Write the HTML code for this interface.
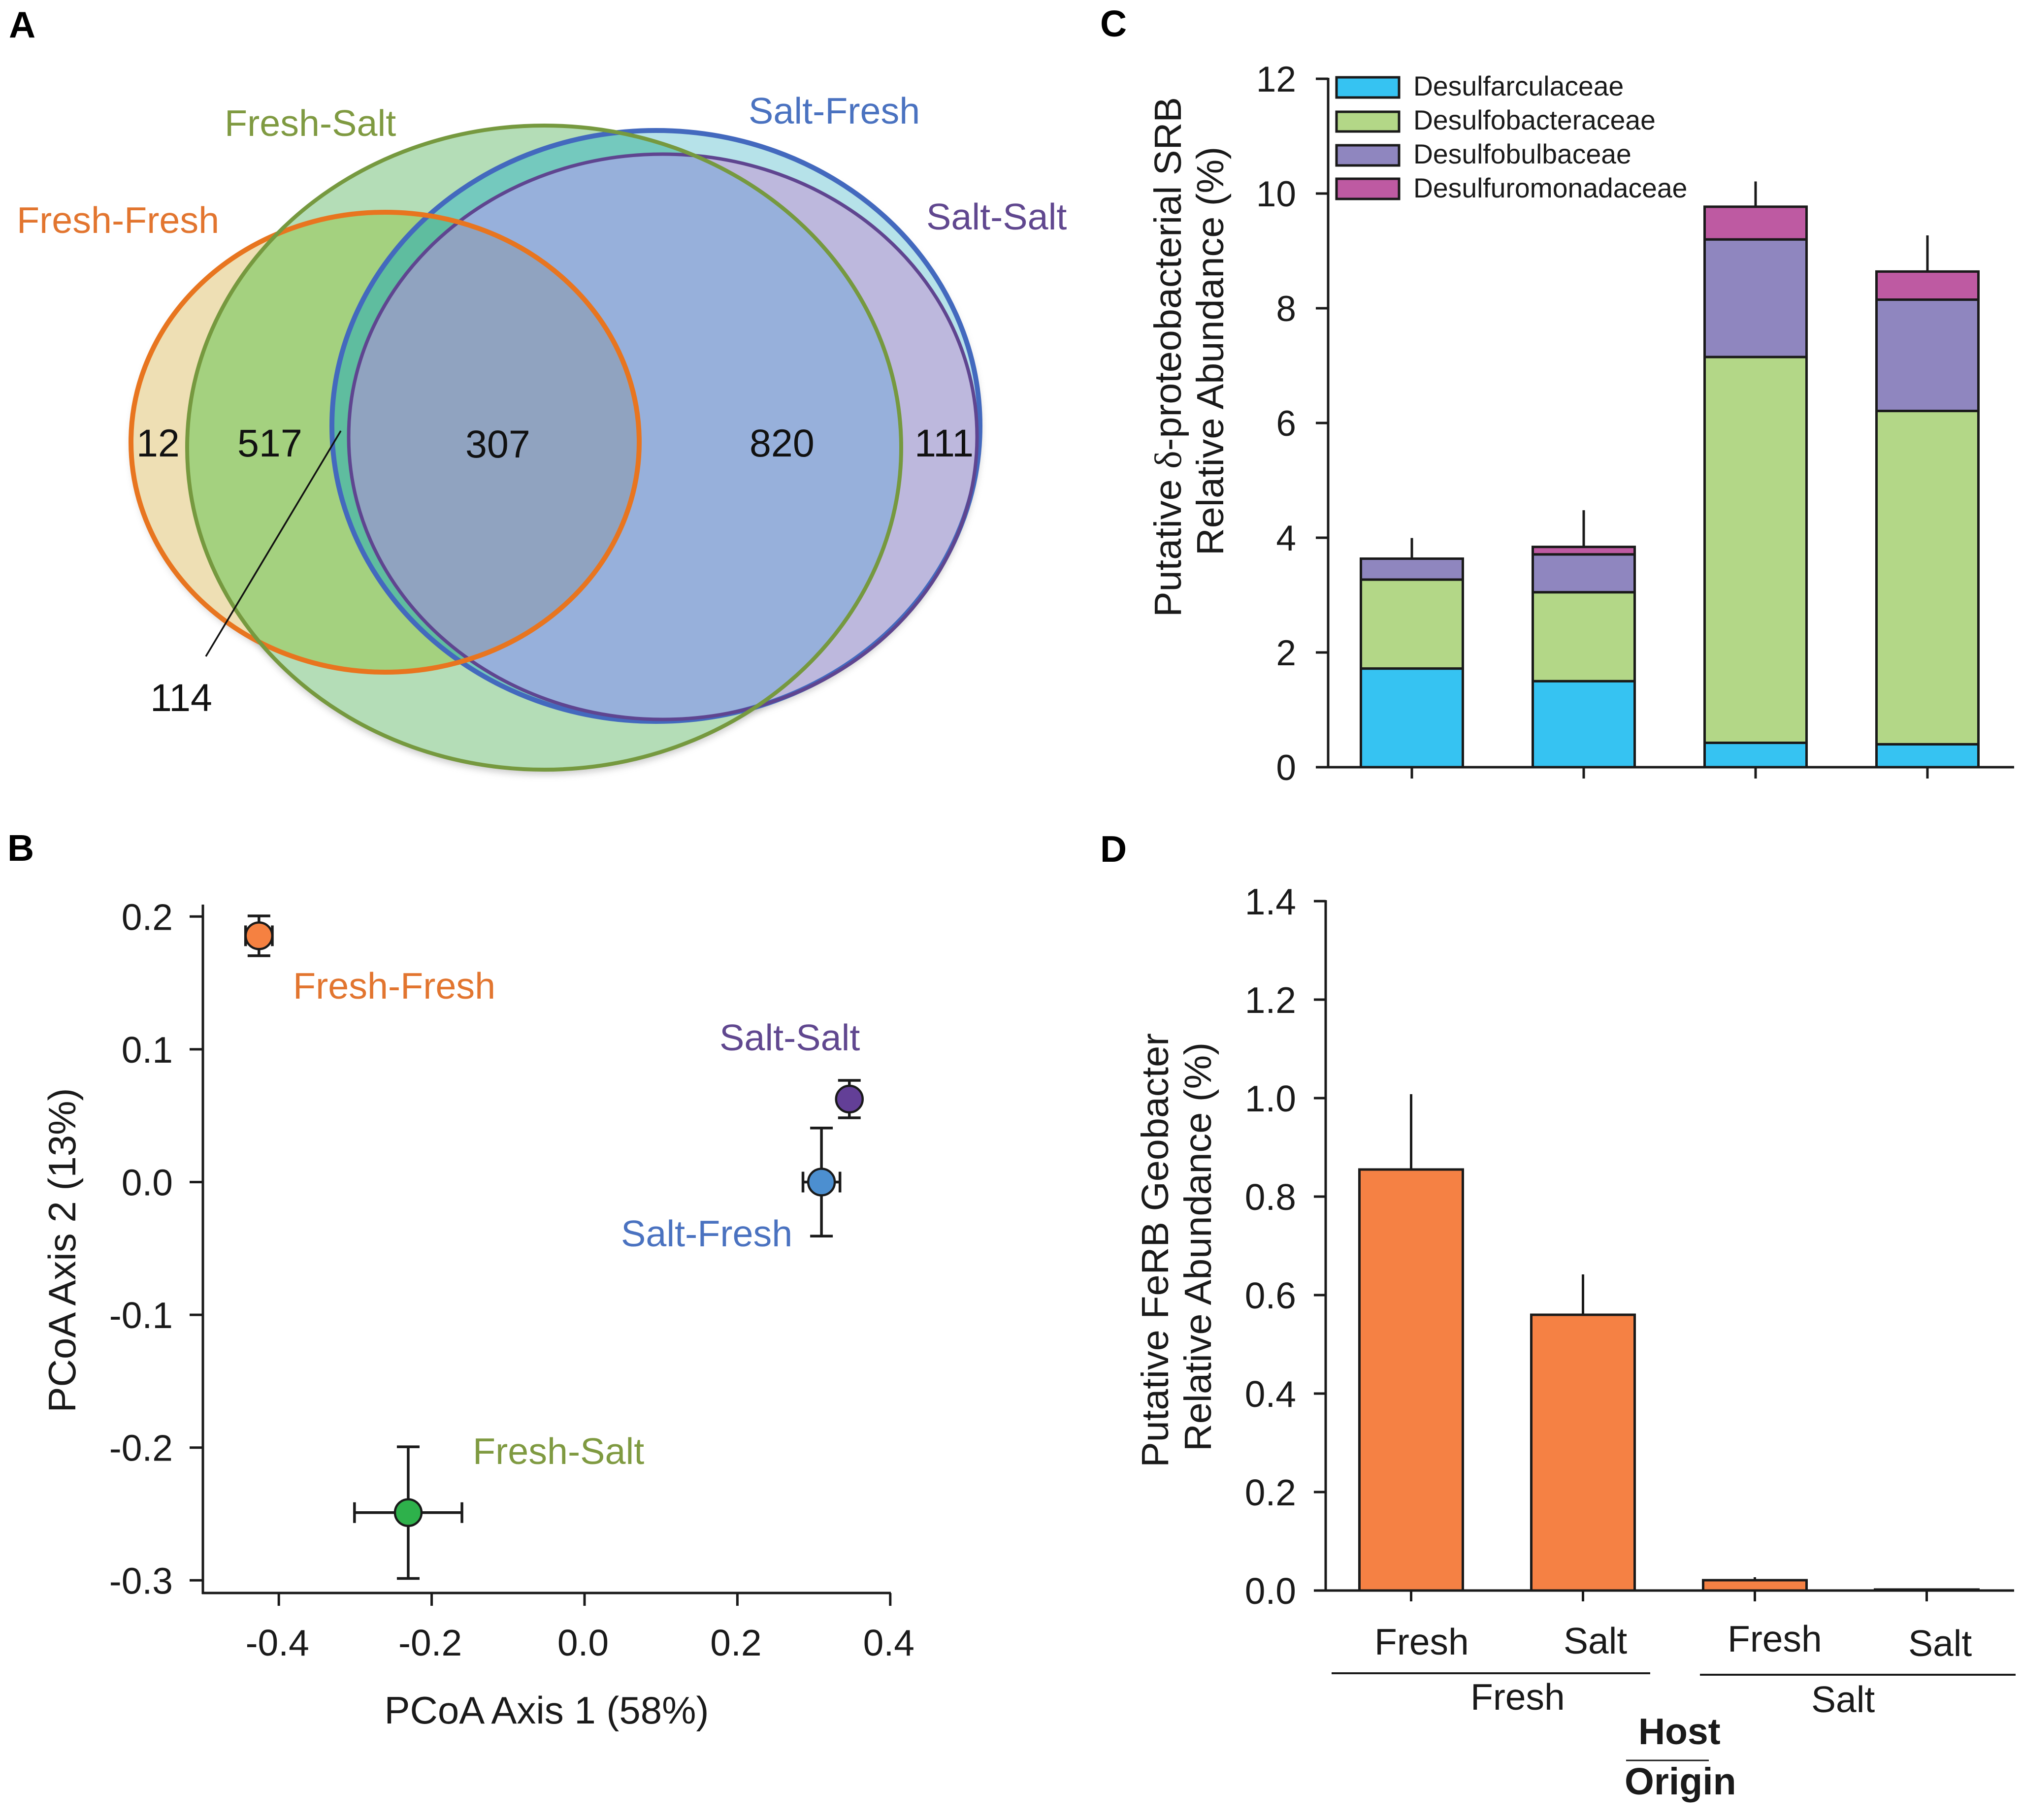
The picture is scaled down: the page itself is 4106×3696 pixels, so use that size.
<!DOCTYPE html>
<html lang="en">
<head>
<meta charset="utf-8">
<title>Four panel microbial community figure</title>
<style>
html,body{margin:0;padding:0;background:#fff;}
svg{display:block;}
text{font-family:"Liberation Sans",Arial,sans-serif;fill:#1a1a1a;}
.panel{font-weight:bold;font-size:75px;fill:#000;}
.vnum{font-size:79px;fill:#111;}
.vlab{font-size:75.5px;}
.title{font-size:77.4px;}
.titleb{font-size:78px;}
.tick{font-size:75px;}
.leg{font-size:55.3px;}
.cat{font-size:75px;}
.ff{fill:#E2752F;}.fs{fill:#7F9A41;}.sf{fill:#4A72C0;}.ss{fill:#60478F;}
</style>
</head>
<body>
<svg id="figure" xmlns="http://www.w3.org/2000/svg" width="4106" height="3696" viewBox="0 0 4106 3696">
  <defs>
    <clipPath id="clipOrange"><ellipse cx="782" cy="898" rx="516" ry="467"/></clipPath>
    <clipPath id="clipGreen"><ellipse cx="1105" cy="909" rx="725" ry="654"/></clipPath>
    <clipPath id="clipBlue"><ellipse cx="1332" cy="865" rx="658" ry="600"/></clipPath>
    <clipPath id="clipPurple"><ellipse cx="1346" cy="887" rx="638" ry="574"/></clipPath>
    <filter id="soft" x="-10%" y="-10%" width="120%" height="120%"><feGaussianBlur stdDeviation="7"/></filter>
  </defs>
  <rect x="0" y="0" width="4106" height="3696" fill="#fff"/>

  <text class="panel" x="18" y="76">A</text>
  <text class="panel" x="15" y="1748">B</text>
  <text class="panel" x="2234" y="74">C</text>
  <text class="panel" x="2234" y="1750">D</text>

  <g id="venn">
    <ellipse cx="1105" cy="919" rx="725" ry="654" fill="#999" opacity="0.5" filter="url(#soft)"/>
    <ellipse cx="782" cy="906" rx="516" ry="467" fill="#999" opacity="0.45" filter="url(#soft)"/>
    <ellipse cx="1335" cy="873" rx="658" ry="600" fill="#999" opacity="0.5" filter="url(#soft)"/>

    <ellipse cx="782" cy="898" rx="516" ry="467" fill="#EEDFB4"/>
    <ellipse cx="1105" cy="909" rx="725" ry="654" fill="#B4DDB7"/>
    <g clip-path="url(#clipGreen)"><ellipse cx="782" cy="898" rx="516" ry="467" fill="#A4D17F"/></g>
    <ellipse cx="1332" cy="865" rx="658" ry="600" fill="#B6E2E9"/>
    <g clip-path="url(#clipGreen)"><ellipse cx="1332" cy="865" rx="658" ry="600" fill="#74C9BE"/></g>
    <g clip-path="url(#clipOrange)"><g clip-path="url(#clipGreen)"><ellipse cx="1332" cy="865" rx="658" ry="600" fill="#5FBD9F"/></g></g>
    <ellipse cx="1346" cy="887" rx="638" ry="574" fill="#BDB8DD"/>
    <g clip-path="url(#clipGreen)"><ellipse cx="1346" cy="887" rx="638" ry="574" fill="#97B0DB"/></g>
    <g clip-path="url(#clipOrange)"><g clip-path="url(#clipGreen)"><ellipse cx="1346" cy="887" rx="638" ry="574" fill="#90A3C0"/></g></g>

    <ellipse cx="1332" cy="865" rx="658" ry="600" fill="none" stroke="#4369BE" stroke-width="10"/>
    <ellipse cx="1346" cy="887" rx="638" ry="574" fill="none" stroke="#5F4590" stroke-width="7"/>
    <ellipse cx="782" cy="898" rx="516" ry="467" fill="none" stroke="#E8751F" stroke-width="10"/>
    <ellipse cx="1105" cy="909" rx="725" ry="654" fill="none" stroke="#76993F" stroke-width="8"/>

    <line x1="692" y1="875" x2="418" y2="1333" stroke="#111" stroke-width="3.5"/>

    <text class="vlab ff" x="34" y="473">Fresh-Fresh</text>
    <text class="vlab fs" x="456" y="276">Fresh-Salt</text>
    <text class="vlab sf" x="1520" y="251">Salt-Fresh</text>
    <text class="vlab ss" x="1881" y="466">Salt-Salt</text>
    <text class="vnum" x="277" y="927">12</text>
    <text class="vnum" x="482" y="927">517</text>
    <text class="vnum" x="945" y="929">307</text>
    <text class="vnum" x="1522" y="927">820</text>
    <text class="vnum" x="1857" y="927">111</text>
    <text class="vnum" x="305" y="1444">114</text>
  </g>

  <g id="chartB">
    <text class="titleb" x="1110" y="3500" text-anchor="middle">PCoA Axis 1 (58%)</text>
    <text class="titleb" transform="translate(153,2539) rotate(-90)" text-anchor="middle">PCoA Axis 2 (13%)</text>
  </g>

  <g id="chartC">
    <text class="title" transform="translate(2398,725) rotate(-90)" text-anchor="middle">Putative <tspan font-family="'Liberation Serif',serif" style="font-family:'Liberation Serif',serif">δ</tspan>-proteobacterial SRB</text>
    <text class="title" transform="translate(2484,713) rotate(-90)" text-anchor="middle">Relative Abundance (%)</text>
    <g>
      <rect x="2714" y="157" width="127" height="41" fill="#36C3F2" stroke="#1a1a1a" stroke-width="5"/>
      <text class="leg" x="2870" y="194">Desulfarculaceae</text>
      <rect x="2714" y="227" width="127" height="40" fill="#B3D787" stroke="#1a1a1a" stroke-width="5"/>
      <text class="leg" x="2870" y="263">Desulfobacteraceae</text>
      <rect x="2714" y="295" width="127" height="41" fill="#8F86BF" stroke="#1a1a1a" stroke-width="5"/>
      <text class="leg" x="2870" y="332">Desulfobulbaceae</text>
      <rect x="2714" y="363" width="127" height="41" fill="#BE5AA2" stroke="#1a1a1a" stroke-width="5"/>
      <text class="leg" x="2870" y="401">Desulfuromonadaceae</text>
    </g>
  </g>

  <g id="chartD">
    <text class="title" transform="translate(2372,2539) rotate(-90)" text-anchor="middle">Putative FeRB Geobacter</text>
    <text class="title" transform="translate(2459,2532) rotate(-90)" text-anchor="middle">Relative Abundance (%)</text>
    <text class="cat" x="2791" y="3360">Fresh</text>
    <text class="cat" x="3175" y="3358">Salt</text>
    <text class="cat" x="3508" y="3354">Fresh</text>
    <text class="cat" x="3875" y="3363">Salt</text>
    <line x1="2704" y1="3398" x2="3351" y2="3398" stroke="#1a1a1a" stroke-width="4"/>
    <line x1="3452" y1="3401" x2="4093" y2="3401" stroke="#1a1a1a" stroke-width="4"/>
    <text class="cat" x="2986" y="3472">Fresh</text>
    <text class="cat" x="3678" y="3477">Salt</text>
    <text class="cat" x="3327" y="3542" font-weight="bold" style="font-weight:bold">Host</text>
    <line x1="3302" y1="3575" x2="3470" y2="3575" stroke="#1a1a1a" stroke-width="3"/>
    <text class="cat" x="3299" y="3644" font-weight="bold" style="font-weight:bold;font-size:77px">Origin</text>
  </g>
</svg>

<script>
// Panel C data: stacked segment sizes (percent) per group
const groupsC = ['Fresh-Fresh', 'Fresh-Salt', 'Salt-Fresh', 'Salt-Salt'];
const desulfarculaceae = [1.72, 1.50, 0.425, 0.40];
const desulfobacteraceae = [1.55, 1.55, 6.725, 5.81];
const desulfobulbaceae = [0.365, 0.66, 2.05, 1.94];
const desulfuromonadaceae = [0, 0.13, 0.57, 0.49];
const errorC = [0.36, 0.64, 0.44, 0.63];
const ticksC = [0, 2, 4, 6, 8, 10, 12];

// Panel D data
const groupsD = ['Fresh-Fresh', 'Fresh-Salt', 'Salt-Fresh', 'Salt-Salt'];
const geobacter = [0.855, 0.56, 0.021, 0.002];
const errorD = [0.153, 0.082, 0.006, 0.001];
const ticksD = [0, 0.2, 0.4, 0.6, 0.8, 1.0, 1.2, 1.4];

// Panel B data
const namesB = ['Fresh-Fresh', 'Salt-Salt', 'Salt-Fresh', 'Fresh-Salt'];
const axis1 = [-0.426, 0.3465, 0.31, -0.2307];
const axis2 = [0.1855, 0.0625, 0, -0.249];
const axis1Err = [0.0175, 0.008, 0.0242, 0.0703];
const axis2Err = [0.015, 0.0141, 0.0407, 0.0496];
const pointColors = ['#F58141', '#633F97', '#4C8FD0', '#2EB14B'];
const ticksBX = [-0.4, -0.2, 0, 0.2, 0.4];
const ticksBY = [-0.3, -0.2, -0.1, 0, 0.1, 0.2];

const NS = 'http://www.w3.org/2000/svg';
const INK = '#1a1a1a';

function svgEl(parent, tag, attrs, txt) {
  const el = document.createElementNS(NS, tag);
  for (const k in attrs) el.setAttribute(k, attrs[k]);
  if (txt !== undefined) el.textContent = txt;
  parent.appendChild(el);
  return el;
}

/* ---------- Panel C ---------- */
(function () {
  const g = document.getElementById('chartC');
  const yC = v => 1558 - v * (1398 / 12);
  const xC = i => 2867 + i * 349;
  const barW = 207;
  const series = [
    { vals: desulfarculaceae, fill: '#36C3F2' },
    { vals: desulfobacteraceae, fill: '#B3D787' },
    { vals: desulfobulbaceae, fill: '#8F86BF' },
    { vals: desulfuromonadaceae, fill: '#BE5AA2' }
  ];
  groupsC.forEach((name, i) => {
    let base = 0;
    series.forEach(s => {
      const v = s.vals[i];
      if (v > 0) {
        const el = svgEl(g, 'rect', { x: xC(i) - barW / 2, y: yC(base + v), width: barW, height: yC(base) - yC(base + v), fill: s.fill, stroke: INK, 'stroke-width': 5 });
        
        
      }
      base += v;
    });
    const err = svgEl(g, 'line', { x1: xC(i), x2: xC(i), y1: yC(base), y2: yC(base + errorC[i]), stroke: INK, 'stroke-width': 5 });
    
    
    const tk = svgEl(g, 'line', { x1: xC(i), x2: xC(i), y1: 1558, y2: 1581, stroke: INK, 'stroke-width': 5 });
    
    
  });
  const yAxis = svgEl(g, 'line', { x1: 2697, x2: 2697, y1: 158, y2: 1560, stroke: INK, 'stroke-width': 5 });
  
  
  const xAxis = svgEl(g, 'line', { x1: 2672, x2: 4090, y1: 1558, y2: 1558, stroke: INK, 'stroke-width': 5 });
  
  
  ticksC.forEach(t => {
    const tk = svgEl(g, 'line', { x1: 2672, x2: 2697, y1: yC(t), y2: yC(t), stroke: INK, 'stroke-width': 5 });
    
    
    const lb = svgEl(g, 'text', { x: 2632, y: yC(t) + 26, 'text-anchor': 'end', 'font-size': 73 }, String(t));
    
    
  });
})();

/* ---------- Panel D ---------- */
(function () {
  const g = document.getElementById('chartD');
  const yD = v => 3230 - v * 1000;
  const xD = i => 2865.5 + i * 349;
  const barW = 210;
  groupsD.forEach((name, i) => {
    const bar = svgEl(g, 'rect', { x: xD(i) - barW / 2, y: yD(geobacter[i]), width: barW, height: yD(0) - yD(geobacter[i]), fill: '#F58144', stroke: INK, 'stroke-width': 5 });
    
    
    const err = svgEl(g, 'line', { x1: xD(i), x2: xD(i), y1: yD(geobacter[i]), y2: yD(geobacter[i] + errorD[i]), stroke: INK, 'stroke-width': 5 });
    
    
    const tk = svgEl(g, 'line', { x1: xD(i), x2: xD(i), y1: 3230, y2: 3252, stroke: INK, 'stroke-width': 5 });
    
    
  });
  const yAxis = svgEl(g, 'line', { x1: 2692, x2: 2692, y1: 1828, y2: 3232, stroke: INK, 'stroke-width': 5 });
  
  
  const xAxis = svgEl(g, 'line', { x1: 2668, x2: 4090, y1: 3230, y2: 3230, stroke: INK, 'stroke-width': 5 });
  
  
  ticksD.forEach(t => {
    const tk = svgEl(g, 'line', { x1: 2668, x2: 2692, y1: yD(t), y2: yD(t), stroke: INK, 'stroke-width': 5 });
    
    
    const lb = svgEl(g, 'text', { x: 2632, y: yD(t) + 27, 'text-anchor': 'end', 'font-size': 75 }, t.toFixed(1));
    
    
  });
})();

/* ---------- Panel B ---------- */
(function () {
  const g = document.getElementById('chartB');
  const xB = v => 1187 + v * 1552;
  const yB = v => 2400.5 - v * 2696;
  const yAxis = svgEl(g, 'line', { x1: 412, x2: 412, y1: 1837, y2: 3237, stroke: INK, 'stroke-width': 5 });
  
  
  const xAxis = svgEl(g, 'line', { x1: 410, x2: 1809, y1: 3235, y2: 3235, stroke: INK, 'stroke-width': 5 });
  
  
  ticksBX.forEach(t => {
    const tk = svgEl(g, 'line', { x1: xB(t), x2: xB(t), y1: 3235, y2: 3261, stroke: INK, 'stroke-width': 5 });
    
    
    const lb = svgEl(g, 'text', { x: xB(t) - 3, y: 3362, 'text-anchor': 'middle', 'font-size': 75 }, t.toFixed(1));
    
    
  });
  ticksBY.forEach(t => {
    const tk = svgEl(g, 'line', { x1: 385, x2: 412, y1: yB(t), y2: yB(t), stroke: INK, 'stroke-width': 5 });
    
    
    const lb = svgEl(g, 'text', { x: 351, y: yB(t) + 27, 'text-anchor': 'end', 'font-size': 75 }, t.toFixed(1));
    
    
  });
  namesB.forEach((name, i) => {
    const cx = xB(axis1[i]), cy = yB(axis2[i]);
    const x0 = xB(axis1[i] - axis1Err[i]), x1 = xB(axis1[i] + axis1Err[i]);
    const y0 = yB(axis2[i] - axis2Err[i]), y1 = yB(axis2[i] + axis2Err[i]);
    const segs = [
      [x0, cy, x1, cy], [x0, cy - 21, x0, cy + 21], [x1, cy - 21, x1, cy + 21],
      [cx, y0, cx, y1], [cx - 23, y0, cx + 23, y0], [cx - 23, y1, cx + 23, y1]
    ];
    segs.forEach(s => {
      const ln = svgEl(g, 'line', { x1: s[0], y1: s[1], x2: s[2], y2: s[3], stroke: INK, 'stroke-width': 5.5 });
      
      
    });
    const pt = svgEl(g, 'circle', { cx: cx, cy: cy, r: 27, fill: pointColors[i], stroke: INK, 'stroke-width': 4.5 });
    
    
  });
})();

/* Panel B point labels */
(function () {
  const g = document.getElementById('chartB');
  const a = svgEl(g, 'text', { x: 595, y: 2028, class: 'vlab ff' }, 'Fresh-Fresh');
  
  
  const b = svgEl(g, 'text', { x: 1461, y: 2133, class: 'vlab ss' }, 'Salt-Salt');
  
  
  const c = svgEl(g, 'text', { x: 1261, y: 2531, class: 'vlab sf' }, 'Salt-Fresh');
  
  
  const d = svgEl(g, 'text', { x: 960, y: 2973, class: 'vlab fs' }, 'Fresh-Salt');
  
  
})();
</script>
</body>
</html>
